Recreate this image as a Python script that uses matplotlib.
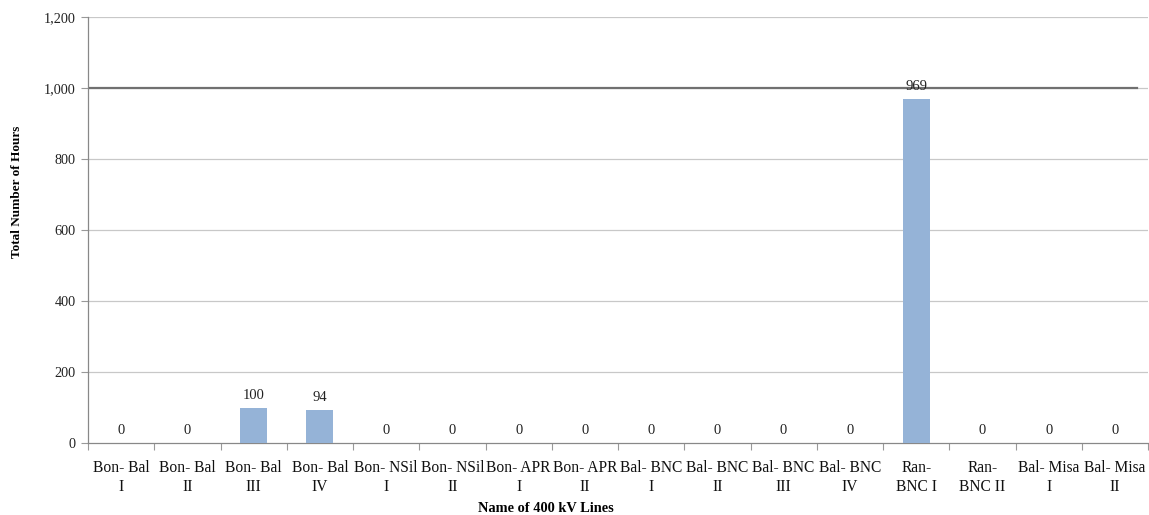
import matplotlib
matplotlib.use("Agg")
import matplotlib.pyplot as plt
from matplotlib.ticker import FuncFormatter, FixedLocator
import numpy as np

lines = ["Bon- Bal\nI", "Bon- Bal\nII", "Bon- Bal\nIII", "Bon- Bal\nIV",
         "Bon- NSil\nI", "Bon- NSil\nII", "Bon- APR\nI", "Bon- APR\nII",
         "Bal- BNC\nI", "Bal- BNC\nII", "Bal- BNC\nIII", "Bal- BNC\nIV",
         "Ran-\nBNC I", "Ran-\nBNC II", "Bal- Misa\nI", "Bal- Misa\nII"]
hours = [0, 0, 100, 94, 0, 0, 0, 0, 0, 0, 0, 0, 969, 0, 0, 0]
limit = 1000
y_ticks = [0, 200, 400, 600, 800, 1000, 1200]

plt.rcParams["font.family"] = ["Liberation Serif", "DejaVu Serif"]

W, H = 1149, 515
fig = plt.figure(figsize=(W / 100, H / 100), dpi=100)
left, right, top, bottom = 88, 1148, 17, 443
ax = fig.add_axes([left / W, 1 - bottom / H, (right - left) / W, (bottom - top) / H])

x = np.arange(len(lines))
ax.bar(x, hours, width=0.41, color="#95B3D7", zorder=3)
for xi, v in zip(x, hours):
    ax.annotate(f"{v:,}", (xi, v), xytext=(0, 4), textcoords="offset points",
                ha="center", va="bottom", fontsize=10.5, color="#222222", zorder=5)

# threshold line
ax.plot([-0.47, len(lines) - 0.67], [limit, limit], color="#707070", lw=1.6, zorder=4)

ax.set_xlim(-0.5, len(lines) - 0.5)
ax.set_ylim(0, 1200)
ax.yaxis.set_major_locator(FixedLocator(y_ticks))
ax.yaxis.set_major_formatter(FuncFormatter(lambda v, p: f"{int(v):,}"))
for yv in y_ticks[1:]:
    ax.axhline(yv, color="#c8c8c8", lw=0.9, zorder=0)

ax.set_xticks(x)
ax.set_xticklabels(lines, fontsize=11.2, linespacing=1.3, color="#111111")
ax.tick_params(axis="x", length=0, pad=12)
ax.xaxis.set_minor_locator(FixedLocator(np.arange(-0.5, len(lines), 1.0)))
ax.tick_params(axis="x", which="minor", length=5, color="#999999", width=0.8)
ax.tick_params(axis="y", length=5, color="#999999", width=0.8, labelsize=10.3,
               pad=4, labelcolor="#222222")

for s in ["top", "right"]:
    ax.spines[s].set_visible(False)
for s in ["left", "bottom"]:
    ax.spines[s].set_color("#888888")
    ax.spines[s].set_linewidth(0.9)

ax.set_ylabel("Total Number of Hours", fontsize=9.5, fontweight="bold", va="center")
ax.yaxis.set_label_coords((17 - left) / (right - left), (bottom - 192) / (bottom - top))
ax.set_xlabel("Name of 400 kV Lines", fontsize=10.4, fontweight="bold", va="center")
ax.xaxis.set_label_coords((546 - left) / (right - left), -(508 - bottom) / (bottom - top))

fig.savefig("out.png", dpi=100)
